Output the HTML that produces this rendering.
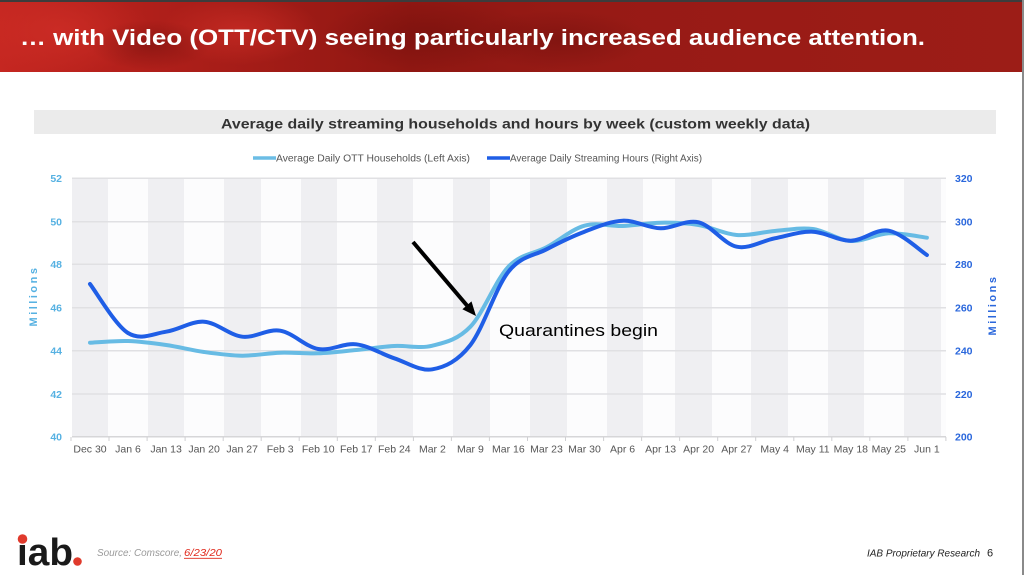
<!DOCTYPE html>
<html>
<head>
<meta charset="utf-8">
<style>
html,body{margin:0;padding:0;background:#fff;}
body{width:1024px;height:575px;overflow:hidden;}
svg{display:block;font-family:"Liberation Sans",sans-serif;}
</style>
</head>
<body>
<svg width="1024" height="575" viewBox="0 0 1024 575" xmlns="http://www.w3.org/2000/svg">
<defs>
<linearGradient id="bn" x1="0" y1="0" x2="1" y2="0">
<stop offset="0" stop-color="#c52721"/>
<stop offset="0.12" stop-color="#b3201b"/>
<stop offset="0.25" stop-color="#a31c17"/>
<stop offset="0.4" stop-color="#8f1712"/>
<stop offset="0.55" stop-color="#961a15"/>
<stop offset="0.75" stop-color="#9a1b16"/>
<stop offset="1" stop-color="#9c1d17"/>
</linearGradient>
<radialGradient id="sp1" cx="0.5" cy="0.5" r="0.5">
<stop offset="0" stop-color="#d33028" stop-opacity="0.6"/>
<stop offset="1" stop-color="#d33028" stop-opacity="0"/>
</radialGradient>
<radialGradient id="sp2" cx="0.5" cy="0.5" r="0.5">
<stop offset="0" stop-color="#6a0e0b" stop-opacity="0.45"/>
<stop offset="1" stop-color="#6a0e0b" stop-opacity="0"/>
</radialGradient>
<clipPath id="bclip"><rect x="0" y="0" width="1022" height="72"/></clipPath>
</defs>

<!-- banner -->
<g clip-path="url(#bclip)">
<rect x="0" y="0" width="1024" height="72" fill="url(#bn)"/>
<ellipse cx="60" cy="30" rx="90" ry="45" fill="url(#sp1)"/>
<ellipse cx="240" cy="30" rx="80" ry="35" fill="url(#sp1)"/>
<ellipse cx="150" cy="45" rx="60" ry="25" fill="url(#sp2)"/>
<ellipse cx="430" cy="35" rx="110" ry="35" fill="url(#sp2)"/>
<ellipse cx="560" cy="40" rx="90" ry="30" fill="url(#sp2)"/>
</g>
<rect x="0" y="0" width="1024" height="2" fill="#3c3c3c"/>
<text x="20" y="45" font-size="22" font-weight="bold" fill="#ffffff" textLength="905" lengthAdjust="spacingAndGlyphs">… with Video (OTT/CTV) seeing particularly increased audience attention.</text>

<!-- chart title band -->
<rect x="34" y="110" width="962" height="24" fill="#ebebeb"/>
<text x="221" y="128.5" font-size="14" font-weight="bold" fill="#333" textLength="589" lengthAdjust="spacingAndGlyphs">Average daily streaming households and hours by week (custom weekly data)</text>

<!-- legend -->
<line x1="253" y1="158" x2="276" y2="158" stroke="#6cbde5" stroke-width="3.5"/>
<text x="276" y="161.5" font-size="10" fill="#555" textLength="194" lengthAdjust="spacingAndGlyphs">Average Daily OTT Households (Left Axis)</text>
<line x1="487" y1="158" x2="510" y2="158" stroke="#1f5ee6" stroke-width="3.5"/>
<text x="510" y="161.5" font-size="10" fill="#555" textLength="192" lengthAdjust="spacingAndGlyphs">Average Daily Streaming Hours (Right Axis)</text>

<!-- plot background -->
<rect x="72" y="178" width="874" height="259" fill="#fcfcfd"/>
<g fill="#efeff2">
<rect x="72" y="178" width="36" height="259"/>
<rect x="148" y="178" width="36" height="259"/>
<rect x="224" y="178" width="37" height="259"/>
<rect x="301" y="178" width="36" height="259"/>
<rect x="377" y="178" width="36" height="259"/>
<rect x="453" y="178" width="37" height="259"/>
<rect x="530" y="178" width="37" height="259"/>
<rect x="607" y="178" width="36" height="259"/>
<rect x="675" y="178" width="37" height="259"/>
<rect x="751" y="178" width="37" height="259"/>
<rect x="828" y="178" width="36" height="259"/>
<rect x="904" y="178" width="37" height="259"/>
</g>

<!-- grid -->
<g stroke="#e0e0e3" stroke-width="1.5">
<line x1="72" y1="178.3" x2="946" y2="178.3"/>
<line x1="72" y1="221.7" x2="946" y2="221.7"/>
<line x1="72" y1="264.3" x2="946" y2="264.3"/>
<line x1="72" y1="307.7" x2="946" y2="307.7"/>
<line x1="72" y1="350.7" x2="946" y2="350.7"/>
<line x1="72" y1="394" x2="946" y2="394"/>
<line x1="72" y1="436.7" x2="946" y2="436.7" stroke="#d6d6d8"/>
</g>
<!-- ticks -->
<g stroke="#cfcfd2" stroke-width="1">
<line x1="71" y1="437" x2="71" y2="441"/><line x1="109" y1="437" x2="109" y2="441"/><line x1="147.1" y1="437" x2="147.1" y2="441"/><line x1="185.1" y1="437" x2="185.1" y2="441"/><line x1="223.2" y1="437" x2="223.2" y2="441"/><line x1="261.2" y1="437" x2="261.2" y2="441"/><line x1="299.2" y1="437" x2="299.2" y2="441"/><line x1="337.3" y1="437" x2="337.3" y2="441"/><line x1="375.3" y1="437" x2="375.3" y2="441"/><line x1="413.4" y1="437" x2="413.4" y2="441"/><line x1="451.4" y1="437" x2="451.4" y2="441"/><line x1="489.4" y1="437" x2="489.4" y2="441"/><line x1="527.5" y1="437" x2="527.5" y2="441"/><line x1="565.5" y1="437" x2="565.5" y2="441"/><line x1="603.6" y1="437" x2="603.6" y2="441"/><line x1="641.6" y1="437" x2="641.6" y2="441"/><line x1="679.6" y1="437" x2="679.6" y2="441"/><line x1="717.7" y1="437" x2="717.7" y2="441"/><line x1="755.7" y1="437" x2="755.7" y2="441"/><line x1="793.8" y1="437" x2="793.8" y2="441"/><line x1="831.8" y1="437" x2="831.8" y2="441"/><line x1="869.8" y1="437" x2="869.8" y2="441"/><line x1="907.9" y1="437" x2="907.9" y2="441"/><line x1="945.9" y1="437" x2="945.9" y2="441"/>
</g>

<!-- left axis labels -->
<g font-size="10.5" fill="#56b1e2" text-anchor="end" font-weight="bold">
<text x="62" y="182">52</text>
<text x="62" y="225.5">50</text>
<text x="62" y="268">48</text>
<text x="62" y="311.5">46</text>
<text x="62" y="354.5">44</text>
<text x="62" y="398">42</text>
<text x="62" y="440.5">40</text>
</g>
<!-- right axis labels -->
<g font-size="10.5" fill="#2a67dc" font-weight="bold">
<text x="955" y="182">320</text>
<text x="955" y="225.5">300</text>
<text x="955" y="268">280</text>
<text x="955" y="311.5">260</text>
<text x="955" y="354.5">240</text>
<text x="955" y="398">220</text>
<text x="955" y="440.5">200</text>
</g>
<text transform="translate(37,296) rotate(-90)" text-anchor="middle" font-size="11" font-weight="bold" fill="#56b1e2" letter-spacing="2.5">Millions</text>
<text transform="translate(996,305) rotate(-90)" text-anchor="middle" font-size="11" font-weight="bold" fill="#2a67dc" letter-spacing="2.5">Millions</text>

<!-- x labels -->
<g font-size="10.5" fill="#555" text-anchor="middle">
<text x="90" y="452.5">Dec 30</text>
<text x="128" y="452.5">Jan 6</text>
<text x="166.1" y="452.5">Jan 13</text>
<text x="204.1" y="452.5">Jan 20</text>
<text x="242.2" y="452.5">Jan 27</text>
<text x="280.2" y="452.5">Feb 3</text>
<text x="318.2" y="452.5">Feb 10</text>
<text x="356.3" y="452.5">Feb 17</text>
<text x="394.3" y="452.5">Feb 24</text>
<text x="432.4" y="452.5">Mar 2</text>
<text x="470.4" y="452.5">Mar 9</text>
<text x="508.4" y="452.5">Mar 16</text>
<text x="546.5" y="452.5">Mar 23</text>
<text x="584.5" y="452.5">Mar 30</text>
<text x="622.6" y="452.5">Apr 6</text>
<text x="660.6" y="452.5">Apr 13</text>
<text x="698.6" y="452.5">Apr 20</text>
<text x="736.7" y="452.5">Apr 27</text>
<text x="774.7" y="452.5">May 4</text>
<text x="812.8" y="452.5">May 11</text>
<text x="850.8" y="452.5">May 18</text>
<text x="888.8" y="452.5">May 25</text>
<text x="926.9" y="452.5">Jun 1</text>
</g>

<!-- light series: households -->
<path fill="none" stroke="#67bbe4" stroke-width="4" stroke-linecap="round" stroke-linejoin="round"
d="M90,342.7 C96.3,342.42 115.3,340.62 128,341 S153.4,343.17 166.1,345 S191.4,350.22 204.1,352 S229.5,355.58 242.2,355.7 S267.5,353.1 280.2,352.7 S305.5,353.75 318.2,353.3 S343.6,351.22 356.3,350 S381.6,346.72 394.3,346 S419.7,348.92 432.4,345.7 S457.7,339.87 470.4,326.7 S495.7,279.93 508.4,266.7 S533.8,254.13 546.5,247.3 S571.8,229.25 584.5,225.7 S609.9,226.5 622.6,226 S647.9,222.87 660.6,222.7 S685.9,222.95 698.6,225 S724,234 736.7,235 S762,232 774.7,231 S800.1,227.33 812.8,229 S838.1,240.28 850.8,241 S876.1,233.85 888.8,233.3 S920.6,236.97 926.9,237.7"/>

<!-- dark series: hours -->
<path fill="none" stroke="#1f5ee6" stroke-width="4" stroke-linecap="round" stroke-linejoin="round"
d="M90,284 C96.3,292.2 115.3,325.05 128,333 S153.4,333.58 166.1,331.7 S191.4,320.87 204.1,321.7 S229.5,335.2 242.2,336.7 S267.5,328.65 280.2,330.7 S305.5,346.73 318.2,349 S343.6,342.75 356.3,344.3 S381.6,354.13 394.3,358.3 S419.7,371.52 432.4,369.3 S457.7,361.27 470.4,345 S495.7,287.65 508.4,271.7 S533.8,255.97 546.5,249.3 S571.8,236.47 584.5,231.7 S609.9,221.27 622.6,220.7 S647.9,228.03 660.6,228.3 S685.9,219.23 698.6,222.3 S724,244.03 736.7,246.7 S762,240.8 774.7,238.3 S800.1,231.3 812.8,231.7 S838.1,240.87 850.8,240.7 S876.1,228.32 888.8,230.7 S920.6,250.95 926.9,255"/>

<!-- arrow annotation -->
<line x1="413" y1="242" x2="467" y2="305.5" stroke="#000" stroke-width="4"/>
<polygon points="476,316 462.4,309.2 471.5,301.4" fill="#000"/>
<text x="499" y="336" font-size="17" fill="#000" textLength="159" lengthAdjust="spacingAndGlyphs">Quarantines begin</text>

<!-- footer -->
<text x="17" y="565" font-size="38" font-weight="bold" fill="#1a1a1a" textLength="56" lengthAdjust="spacingAndGlyphs">iab</text>
<rect x="16" y="532" width="13" height="12" fill="#ffffff"/>
<circle cx="22.5" cy="539" r="4.8" fill="#e03a2c"/>
<circle cx="77.5" cy="561.5" r="4.3" fill="#e03a2c"/>
<text x="97" y="556" font-size="10" font-style="italic" fill="#9a9a9a" textLength="85" lengthAdjust="spacingAndGlyphs">Source: Comscore,</text>
<text x="184" y="556" font-size="10" font-style="italic" fill="#e0291c" textLength="38" lengthAdjust="spacingAndGlyphs">6/23/20</text>
<line x1="184" y1="558.3" x2="222" y2="558.3" stroke="#e0291c" stroke-width="0.9"/>
<text x="867" y="556.5" font-size="10.5" font-style="italic" fill="#222" textLength="113" lengthAdjust="spacingAndGlyphs">IAB Proprietary Research</text>
<text x="987" y="556.5" font-size="11" fill="#222">6</text>

<!-- right slide border -->
<rect x="1022" y="0" width="2" height="575" fill="#8a8a8a"/>
</svg>
</body>
</html>
